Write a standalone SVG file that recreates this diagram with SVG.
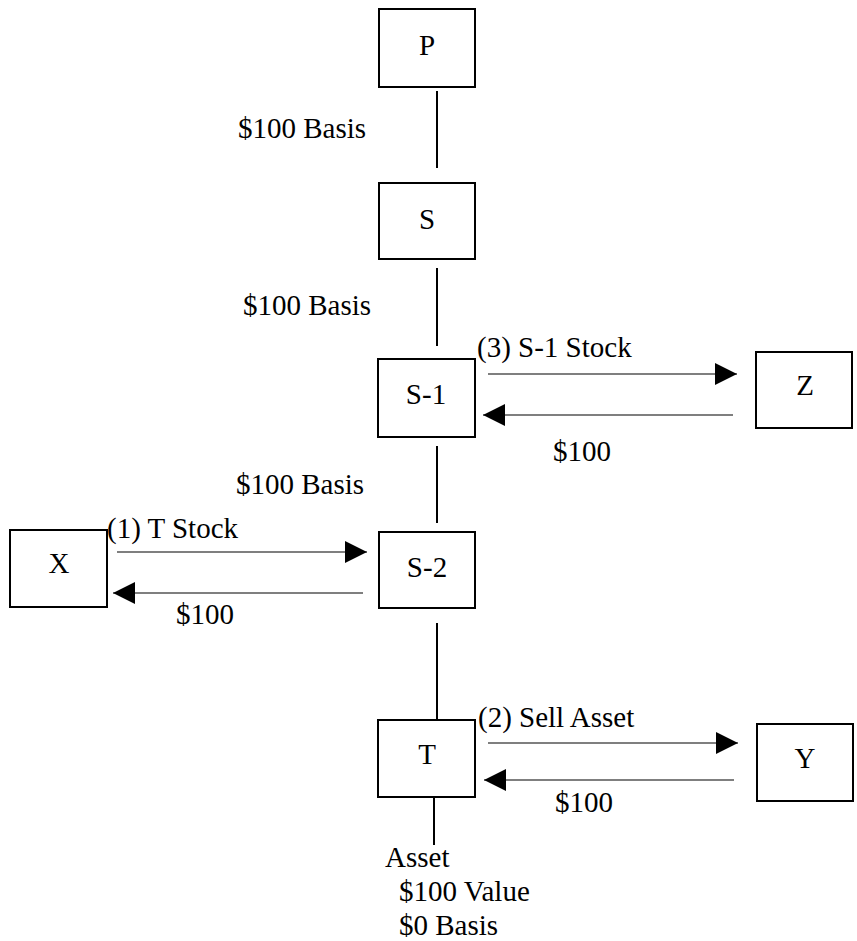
<svg xmlns="http://www.w3.org/2000/svg" width="857" height="941" viewBox="0 0 857 941" font-family="'Liberation Serif', serif" font-size="29">
  <style>
    .box { fill: #fff; stroke: #000; stroke-width: 2; }
    .mid { text-anchor: middle; }
    .link { stroke: #000; stroke-width: 2; fill: none; }
    .flow { stroke: #000; stroke-width: 1.2; fill: none; marker-end: url(#head); }
  </style>
  <defs>
    <marker id="head" viewBox="0 0 22 22" refX="22" refY="11" markerWidth="22" markerHeight="22" markerUnits="userSpaceOnUse" orient="auto">
      <path d="M0,0 L22,11 L0,22 Z" fill="#000"/>
    </marker>
  </defs>
  <rect width="857" height="941" fill="#fff"/>

  <!-- ownership chain and transfers -->
  <g id="connectors">
    <line class="link" x1="437" y1="91" x2="437" y2="168"/>
    <line class="link" x1="437" y1="268" x2="437" y2="346"/>
    <line class="link" x1="437" y1="446" x2="437" y2="523"/>
    <line class="link" x1="437" y1="623" x2="437" y2="720"/>
    <line class="link" x1="434" y1="797" x2="434" y2="845"/>

    <line class="flow" x1="488" y1="374" x2="737" y2="374"/>
    <line class="flow" x1="733" y1="415" x2="483" y2="415"/>
    <line class="flow" x1="117" y1="552" x2="367" y2="552"/>
    <line class="flow" x1="363" y1="593" x2="113" y2="593"/>
    <line class="flow" x1="488" y1="743" x2="738" y2="743"/>
    <line class="flow" x1="734" y1="780" x2="484" y2="780"/>

    <text x="238" y="138">$100 Basis</text>
    <text x="243" y="315">$100 Basis</text>
    <text x="236" y="494">$100 Basis</text>
    <text x="477" y="357">(3) S-1 Stock</text>
    <text x="553" y="461">$100</text>
    <text x="107" y="538">(1) T Stock</text>
    <text x="176" y="624">$100</text>
    <text x="478" y="727">(2) Sell Asset</text>
    <text x="555" y="812">$100</text>
  </g>

  <g id="node-P">
    <rect class="box" x="379" y="9" width="96" height="78"/>
    <text class="mid" x="427" y="55">P</text>
  </g>
  <g id="node-S">
    <rect class="box" x="379" y="183" width="96" height="76"/>
    <text class="mid" x="427" y="229">S</text>
  </g>
  <g id="node-S1">
    <rect class="box" x="378" y="359" width="97" height="78"/>
    <text class="mid" x="426" y="404">S-1</text>
  </g>
  <g id="node-Z">
    <rect class="box" x="756" y="352" width="96" height="76"/>
    <text class="mid" x="805" y="395">Z</text>
  </g>
  <g id="node-X">
    <rect class="box" x="10" y="530" width="97" height="77"/>
    <text class="mid" x="59" y="573">X</text>
  </g>
  <g id="node-S2">
    <rect class="box" x="379" y="532" width="96" height="76"/>
    <text class="mid" x="427" y="577">S-2</text>
  </g>
  <g id="node-T">
    <rect class="box" x="378" y="720" width="97" height="77"/>
    <text class="mid" x="427" y="764">T</text>
  </g>
  <g id="node-Y">
    <rect class="box" x="757" y="724" width="96" height="77"/>
    <text class="mid" x="805" y="768">Y</text>
  </g>

  <g id="asset-note">
    <text x="385" y="867">Asset</text>
    <text x="399" y="901">$100 Value</text>
    <text x="399" y="935">$0 Basis</text>
  </g>
</svg>
